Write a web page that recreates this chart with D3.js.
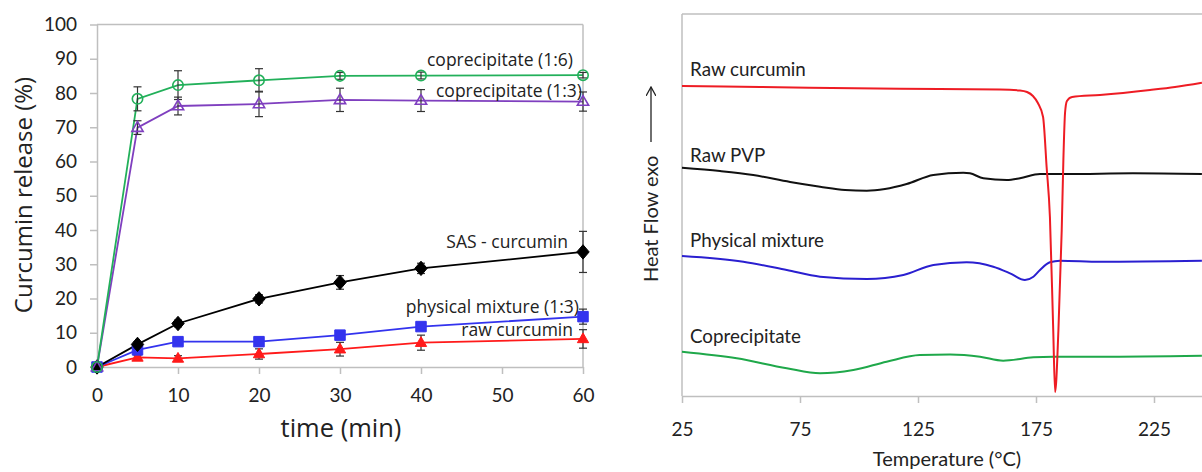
<!DOCTYPE html>
<html>
<head>
<meta charset="utf-8">
<script src="https://cdn.jsdelivr.net/npm/d3@7"></script>
<style>
  html, body { margin: 0; padding: 0; background: #fff; }
  svg { display: block; font-family: Lato, "Open Sans", sans-serif; }
</style>
</head>
<body>
<svg id="chart" width="1202" height="472"></svg>
<script>
// ---------- Left panel: dissolution data ----------
const times = [0, 5, 10, 20, 30, 40, 60];
const yTicks = [0, 10, 20, 30, 40, 50, 60, 70, 80, 90, 100];
const xTicksLeft = [0, 10, 20, 30, 40, 50, 60];

const cop16 = [0, 78.3, 82.3, 83.7, 85.0, 85.1, 85.2];
const cop16Err = [0, 3.5, 4.2, 3.4, 1.0, 1.0, 0.8];
const cop13 = [0, 69.9, 76.2, 76.8, 78.0, 77.8, 77.5];
const cop13Err = [0, 2.0, 2.6, 3.7, 3.4, 3.2, 2.8];
const sasCur = [0, 6.6, 12.7, 19.9, 24.7, 28.8, 33.6];
const sasCurErr = [0, 0.8, 1.0, 1.2, 2.0, 1.5, 6.0];
const physMix = [0, 5.0, 7.4, 7.4, 9.3, 11.8, 14.7];
const physMixErr = [0.5, 0.5, 0.8, 1.3, 1.0, 1.0, 2.2];
const rawCur = [0, 2.8, 2.5, 3.8, 5.2, 7.1, 8.2];
const rawCurErr = [0, 0.5, 0.8, 1.5, 2.0, 2.2, 2.7];

// ---------- Right panel: DSC curves (temperature °C, heat flow a.u.) ----------
const xTicksRight = [25, 75, 125, 175, 225];
const dscRawCurT = [25, 58.1, 117.4, 159.7, 168.2, 171.2, 173.7, 175.8, 178, 179.5, 180.9, 182.3, 183.1, 184.5, 185.9, 186.6, 187.3, 188.1, 190.3, 202.1, 223.3, 233.9, 245.3];
const dscRawCurV = [310, 309, 307.3, 306.5, 305.5, 304, 300, 293, 279, 229, 179, 66, 4, 66, 166, 236, 283, 295, 299, 301, 306, 309, 313.3];
const dscPvpT = [25, 41.1, 55.2, 70.8, 83.5, 94.1, 103.3, 111, 120.2, 131.5, 144.2, 147, 152.7, 162.6, 168.2, 176.7, 188, 216.1, 245.3];
const dscPvpV = [228.3, 225, 221, 214, 209.3, 206, 205.3, 207, 212, 221, 223.3, 222.7, 217.7, 216, 217.7, 222, 222, 222.7, 222];
const dscPmT = [25, 51, 69.4, 83.5, 103.3, 118.8, 131.5, 145.6, 156.9, 164, 170.3, 173.9, 176.7, 180.9, 185.2, 202.1, 245.3];
const dscPmV = [140, 134.3, 126, 119.3, 117, 121, 131, 133.7, 129.3, 122.7, 116, 119.3, 126, 133.7, 135.3, 134.3, 135.3];
const dscCopT = [25, 48.2, 69.4, 83.5, 97.6, 111.7, 125.8, 138.6, 151.3, 161.1, 173.9, 182.3, 202.1, 245.3];
const dscCopV = [44.3, 37.7, 27.7, 22.7, 26, 34.3, 41, 41.5, 39.3, 35.3, 38.7, 39.3, 39.3, 40.3];

const svg = d3.select("#chart");
svg.append("rect").attr("width", 1202).attr("height", 472).attr("fill", "#fff");

const axisGray = "#bfbfbf";
const textColor = "#222";
const wideFont = "'Open Sans', Lato, sans-serif";

// ===== Left panel =====
const xL = d3.scaleLinear().domain([0, 60]).range([97, 583]);
const yL = d3.scaleLinear().domain([0, 100]).range([367, 24.5]);

const gL = svg.append("g");

// frame top and right
gL.append("line").attr("x1", xL(0)).attr("x2", xL(60)).attr("y1", yL(100)).attr("y2", yL(100))
  .attr("stroke", axisGray).attr("stroke-width", 1.5);
gL.append("line").attr("x1", xL(60)).attr("x2", xL(60)).attr("y1", yL(100)).attr("y2", yL(0))
  .attr("stroke", axisGray).attr("stroke-width", 1.5);

const axL = gL.append("g").attr("transform", `translate(${xL(0)},0)`)
  .call(d3.axisLeft(yL).tickValues(yTicks).tickSize(7).tickPadding(13).tickSizeOuter(0));
const axB = gL.append("g").attr("transform", `translate(0,${yL(0)})`)
  .call(d3.axisBottom(xL).tickValues(xTicksLeft).tickSize(7).tickPadding(15).tickSizeOuter(0));
[axL, axB].forEach(a => {
  a.select(".domain").attr("stroke", axisGray).attr("stroke-width", 1.5);
  a.selectAll(".tick line").attr("stroke", axisGray).attr("stroke-width", 1.5);
  a.selectAll(".tick text").attr("fill", textColor).attr("font-size", 19).attr("font-family", "Lato, sans-serif");
});

gL.append("text").attr("transform", "translate(32,195) rotate(-90)")
  .attr("text-anchor", "middle").attr("font-size", 24).attr("font-family", wideFont).attr("fill", textColor)
  .text("Curcumin release (%)");
gL.append("text").attr("x", 341).attr("y", 437)
  .attr("text-anchor", "middle").attr("font-size", 25.5).attr("font-family", wideFont).attr("fill", textColor)
  .text("time (min)");

const series = [
  { vals: rawCur, err: rawCurErr, color: "#ff1a1a", marker: "triangle", filled: true, label: "raw curcumin", lx: 573, ly: 336 },
  { vals: physMix, err: physMixErr, color: "#3333ee", marker: "square", filled: true, label: "physical mixture (1:3)", lx: 579, ly: 313 },
  { vals: sasCur, err: sasCurErr, color: "#000000", marker: "diamond", filled: true, label: "SAS - curcumin", lx: 568, ly: 248 },
  { vals: cop13, err: cop13Err, color: "#7f3fbf", marker: "triangle", filled: false, label: "coprecipitate (1:3)", lx: 582, ly: 97 },
  { vals: cop16, err: cop16Err, color: "#22b05a", marker: "circle", filled: false, label: "coprecipitate (1:6)", lx: 573, ly: 66 }
];

const lineL = d3.line().x(d => xL(d[0])).y(d => yL(d[1]));
const diamondSym = { draw(ctx, size) { const w = 6.2, h = 7.2; ctx.moveTo(0, -h); ctx.lineTo(w, 0); ctx.lineTo(0, h); ctx.lineTo(-w, 0); ctx.closePath(); } };
const symbolType = { triangle: d3.symbolTriangle, square: d3.symbolSquare, diamond: diamondSym, circle: d3.symbolCircle };
const symbolSize = { triangle: 55, square: 110, diamond: 100, circle: 85 };

// lines
series.forEach(s => {
  const pts = times.map((t, i) => [t, s.vals[i]]);
  gL.append("path").datum(pts).attr("d", lineL)
    .attr("fill", "none").attr("stroke", s.color).attr("stroke-width", 1.8);
});
// error bars
series.forEach(s => {
  times.forEach((t, i) => {
    const e = s.err[i];
    if (e <= 0.3) return;
    const x = xL(t), y1 = yL(s.vals[i] - e), y2 = yL(s.vals[i] + e);
    const g = gL.append("g").attr("stroke", "#333").attr("stroke-width", 1.2);
    g.append("line").attr("x1", x).attr("x2", x).attr("y1", y1).attr("y2", y2);
    g.append("line").attr("x1", x - 4).attr("x2", x + 4).attr("y1", y1).attr("y2", y1);
    g.append("line").attr("x1", x - 4).attr("x2", x + 4).attr("y1", y2).attr("y2", y2);
  });
});
// markers and labels
series.forEach(s => {
  const sym = d3.symbol().type(symbolType[s.marker]).size(symbolSize[s.marker]);
  times.forEach((t, i) => {
    const dy = s.marker === "triangle" ? 0.5 : 0;
    gL.append("path").attr("d", sym)
      .attr("transform", `translate(${xL(t)},${yL(s.vals[i]) + dy})`)
      .attr("fill", s.filled ? s.color : "none")
      .attr("stroke", s.color).attr("stroke-width", s.filled ? 1 : 1.6);
  });
  gL.append("text").attr("x", s.lx).attr("y", s.ly).attr("text-anchor", "end")
    .attr("font-size", 17.5).attr("font-family", wideFont).attr("fill", textColor).text(s.label);
});

// ===== Right panel =====
const xR = d3.scaleLinear().domain([25, 275]).range([682, 1272]);
const yR = d3.scaleLinear().domain([0, 382]).range([396, 14]);
const gR = svg.append("g");

gR.append("line").attr("x1", xR(25)).attr("x2", 1202).attr("y1", yR(382)).attr("y2", yR(382))
  .attr("stroke", axisGray).attr("stroke-width", 1.5);
gR.append("line").attr("x1", xR(25)).attr("x2", xR(25)).attr("y1", yR(382)).attr("y2", yR(0))
  .attr("stroke", axisGray).attr("stroke-width", 1.5);
const axBR = gR.append("g").attr("transform", `translate(0,${yR(0)})`)
  .call(d3.axisBottom(xR).tickValues(xTicksRight).tickSize(7).tickPadding(20).tickSizeOuter(0));
axBR.select(".domain").attr("stroke", axisGray).attr("stroke-width", 1.5);
axBR.selectAll(".tick line").attr("stroke", axisGray).attr("stroke-width", 1.5);
axBR.selectAll(".tick text").attr("fill", textColor).attr("font-size", 19).attr("font-family", "Lato, sans-serif");

gR.append("text").attr("x", 947).attr("y", 466)
  .attr("text-anchor", "middle").attr("font-size", 20).attr("fill", textColor)
  .text("Temperature (°C)");

// y title with arrow
gR.append("text").attr("transform", "translate(658,282) rotate(-90)")
  .attr("text-anchor", "start").attr("font-size", 20).attr("fill", textColor)
  .text("Heat Flow exo");
const defs = svg.append("defs");
defs.append("marker").attr("id", "arr").attr("viewBox", "0 0 10 10").attr("refX", 9).attr("refY", 5)
  .attr("markerWidth", 10).attr("markerHeight", 10).attr("markerUnits", "userSpaceOnUse").attr("orient", "auto")
  .append("path").attr("d", "M0,0 L9,5 L0,10").attr("fill", "none").attr("stroke", textColor).attr("stroke-width", 1.3);
gR.append("line").attr("x1", 651).attr("x2", 651).attr("y1", 142).attr("y2", 87)
  .attr("stroke", textColor).attr("stroke-width", 1.3).attr("marker-end", "url(#arr)");

const dsc = [
  { T: dscRawCurT, V: dscRawCurV, color: "#ee1c24", label: "Raw curcumin", ly: 76 },
  { T: dscPvpT, V: dscPvpV, color: "#111111", label: "Raw PVP", ly: 162 },
  { T: dscPmT, V: dscPmV, color: "#2a1fd0", label: "Physical mixture", ly: 247 },
  { T: dscCopT, V: dscCopV, color: "#1fa84a", label: "Coprecipitate", ly: 343 }
];
const lineR = d3.line().x(d => xR(d[0])).y(d => yR(d[1])).curve(d3.curveMonotoneX);
[1, 2, 3, 0].forEach(k => {
  const c = dsc[k];
  const pts = c.T.map((t, i) => [t, c.V[i]]);
  gR.append("path").datum(pts).attr("d", lineR)
    .attr("fill", "none").attr("stroke", c.color).attr("stroke-width", 2);
});
dsc.forEach(c => {
  gR.append("text").attr("x", 690).attr("y", c.ly).attr("font-size", 18.8).attr("fill", textColor).text(c.label);
});
</script>
</body>
</html>
